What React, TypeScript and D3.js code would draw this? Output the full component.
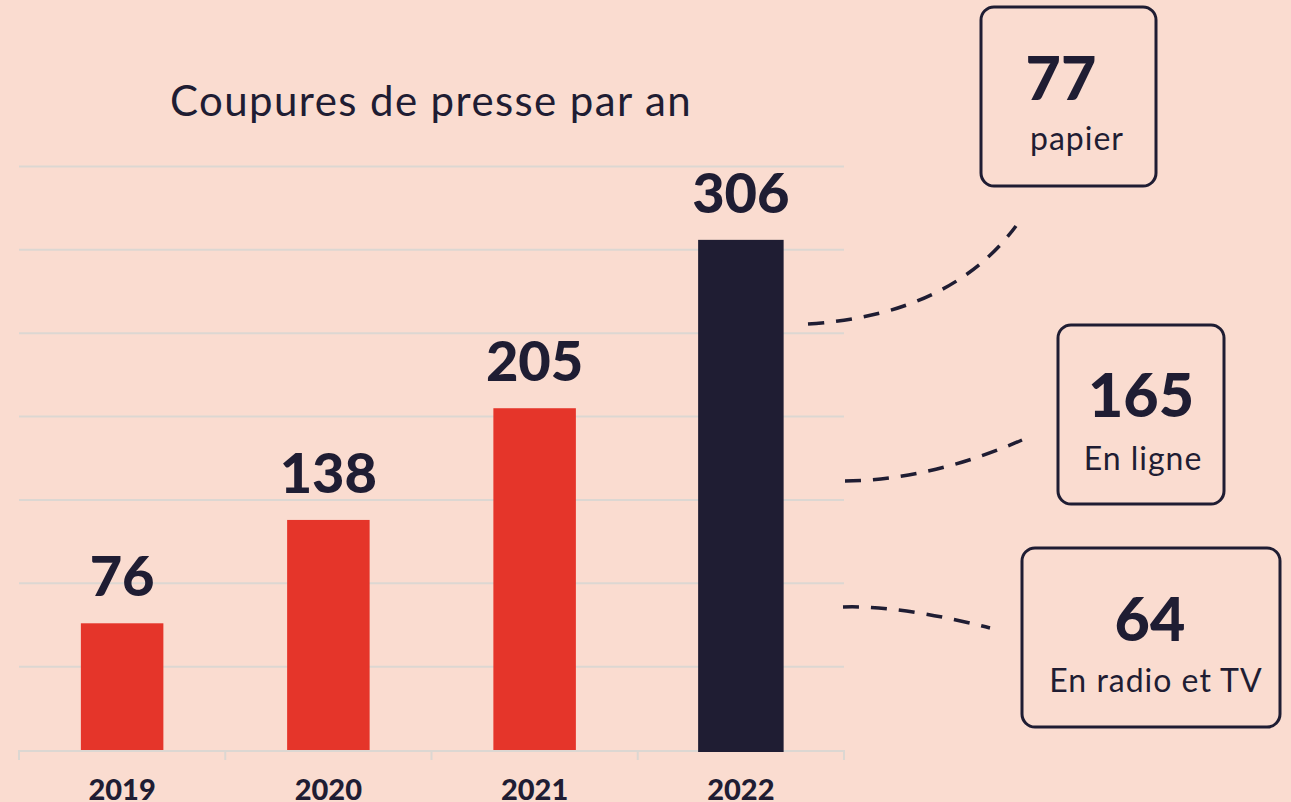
import React from "react";
import * as d3 from "d3";

const years = ["2019", "2020", "2021", "2022"];
const clippings = [76, 138, 205, 306];
const breakdownValues = [77, 165, 64];
const breakdownLabels = ["papier", "En ligne", "En radio et TV"];
const yTicks = [0, 50, 100, 150, 200, 250, 300, 350];
const title = "Coupures de presse par an";

const W = 1291;
const H = 802;
const BG = "#fadcd0";
const RED = "#e5352a";
const DARK = "#1f1d33";
const GRID = "#dcd7d2";
const FONT = "Lato, 'Open Sans', sans-serif";

const boxes = [
  { x: 981, y: 7, w: 175, h: 179, numX: 1061, numY: 100, lblX: 1077, lblY: 150 },
  { x: 1058, y: 325, w: 166, h: 179, numX: 1141, numY: 417, lblX: 1143, lblY: 470 },
  { x: 1022, y: 548, w: 258, h: 179, numX: 1150, numY: 641, lblX: 1156, lblY: 692 },
];
const connectors = [
  { x0: 808, y0: 324, cx: 950, cy: 315, x1: 1016, y1: 226 },
  { x0: 845, y0: 481, cx: 930, cy: 480, x1: 1022, y1: 440 },
  { x0: 843, y0: 607, cx: 900, cy: 605, x1: 990, y1: 628 },
];

export default function App() {
  const x = d3.scaleBand<string>().domain(years).range([19, 844]).padding(0);
  const y = d3.scaleLinear().domain([0, 350]).range([750, 166.5]);
  const bw = x.bandwidth() * 0.4;

  return (
    <svg width={W} height={H} style={{ position: "absolute", left: 0, top: 0, display: "block" }}>
      <rect x={0} y={0} width={W} height={H} fill={BG} />
      <text x={170} y={116} fontFamily={FONT} fontSize={42} letterSpacing={1.4} fill={DARK}>
        {title}
      </text>
      {yTicks.slice(1).map((t) => (
        <line key={t} x1={19} x2={844} y1={y(t)} y2={y(t)} stroke={GRID} strokeWidth={2} />
      ))}
      <line x1={19} x2={844} y1={y(0) + 1} y2={y(0) + 1} stroke={GRID} strokeWidth={2} />
      {[...years.map((yr) => x(yr) as number), 844].map((tx, i) => (
        <line key={i} x1={tx} x2={tx} y1={y(0)} y2={760} stroke={GRID} strokeWidth={2} />
      ))}
      {years.map((yr, i) => {
        const cx = (x(yr) as number) + x.bandwidth() / 2;
        const last = i === years.length - 1;
        const w = last ? bw + 3 : bw;
        return (
          <g key={yr}>
            <rect
              x={cx - w / 2}
              y={y(clippings[i])}
              width={w}
              height={y(0) - y(clippings[i]) + (last ? 2 : 0)}
              fill={last ? DARK : RED}
            />
            <text
              x={cx}
              y={y(clippings[i]) - 27}
              textAnchor="middle"
              fontFamily={FONT}
              fontWeight={900}
              fontSize={56}
              fill={DARK}
            >
              {clippings[i]}
            </text>
            <text x={cx} y={800} textAnchor="middle" fontFamily={FONT} fontWeight={900} fontSize={29} fill={DARK}>
              {yr}
            </text>
          </g>
        );
      })}
      {connectors.map((c, i) => {
        const p = d3.path();
        p.moveTo(c.x0, c.y0);
        p.quadraticCurveTo(c.cx, c.cy, c.x1, c.y1);
        return (
          <path key={i} d={p.toString()} fill="none" stroke={DARK} strokeWidth={3.5} strokeDasharray="16 12" />
        );
      })}
      {boxes.map((b, i) => (
        <g key={i}>
          <rect x={b.x} y={b.y} width={b.w} height={b.h} rx={13} fill="none" stroke={DARK} strokeWidth={3} />
          <text x={b.numX} y={b.numY} textAnchor="middle" fontFamily={FONT} fontWeight={900} fontSize={61} fill={DARK}>
            {breakdownValues[i]}
          </text>
          <text
            x={b.lblX}
            y={b.lblY}
            textAnchor="middle"
            fontFamily={FONT}
            fontSize={32}
            letterSpacing={1}
            fill={DARK}
          >
            {breakdownLabels[i]}
          </text>
        </g>
      ))}
    </svg>
  );
}
